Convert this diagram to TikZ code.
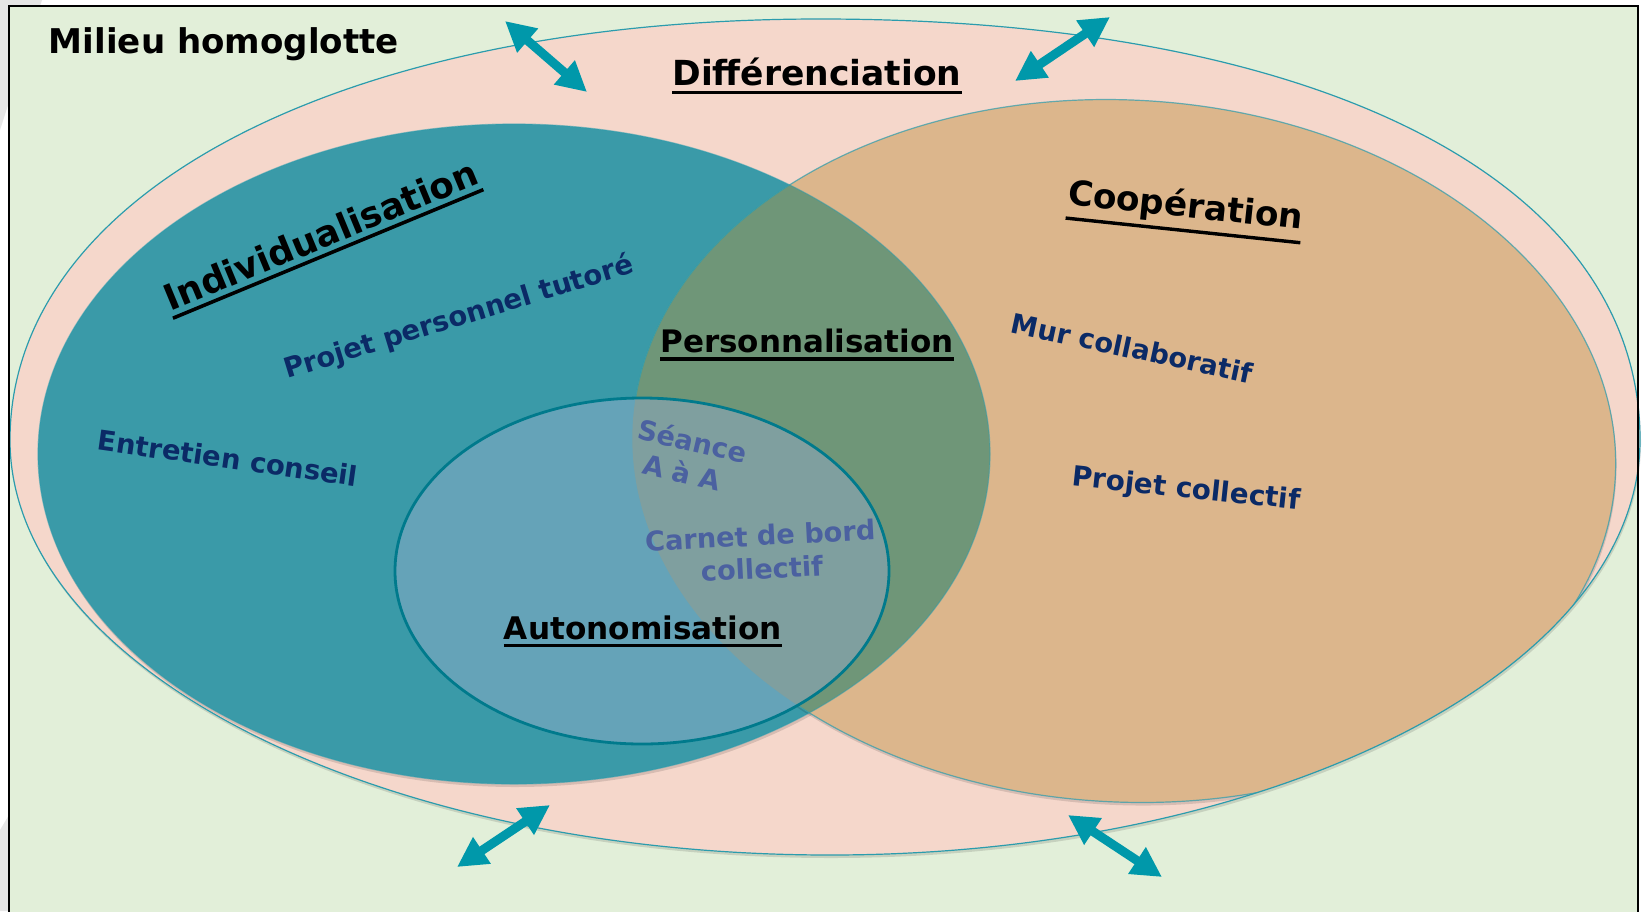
\documentclass[tikz,border=0pt]{standalone}
\usepackage{fontspec}
\usepackage{graphicx}
\setmainfont{DejaVu Sans}
\usetikzlibrary{arrows.meta}
\newlength\pxu \setlength\pxu{0.5pt}
\newcommand\fitw[2]{\resizebox{#1\pxu}{!}{#2}}
\newcommand\ulx[1]{\vtop{\hbox{#1}\kern1.3pt\hrule height 1.0pt}}
\newcommand\outerP{(10,440) .. controls (10,192) and (342,19) .. (820,19) .. controls (1323,19) and (1640,182) .. (1640,440) .. controls (1640,669) and (1277,855) .. (830,855) .. controls (377,855) and (10,669) .. cycle}
\newcommand\tanP{(1124,451) ellipse [x radius=492, y radius=351]}
\newcommand\blueP{(514,454) ellipse [x radius=476, y radius=330]}
\newcommand\innerP{(642,571) ellipse [x radius=247, y radius=173]}
\definecolor{bgGreen}{HTML}{E2EFD9}
\definecolor{pinkF}{HTML}{F5D7CB}
\definecolor{tealF}{HTML}{3A9AA8}
\definecolor{tanF}{HTML}{DCB68C}
\definecolor{ovlp}{HTML}{6F9678}
\definecolor{innerA}{HTML}{65A3B8}
\definecolor{innerB}{HTML}{7F9F9F}
\definecolor{innerEdge}{HTML}{007A8C}
\definecolor{edgeT}{HTML}{2B9CAD}
\definecolor{arrowT}{HTML}{0098AA}
\definecolor{navy}{HTML}{0B2A66}
\definecolor{lblue}{HTML}{4B61A0}
\definecolor{grayP}{HTML}{E6E6E6}
\begin{document}
\begin{tikzpicture}[x=0.5pt,y=-0.5pt,
  every node/.style={inner sep=0pt},
  hd/.style={font=\bfseries, text=black},
  nv/.style={font=\bfseries, text=navy},
  lb/.style={font=\bfseries\fontsize{13.6}{16.5}\selectfont, text=lblue},
  dbl/.style={draw=arrowT, line width=4.5pt, {Triangle[length=15pt,width=15pt]}-{Triangle[length=15pt,width=15pt]}},
  thinedge/.style={draw=edgeT, line width=0.6pt},
  shadowF/.style={fill=black, fill opacity=0.12},
  tanrot/.style={rotate around={-3:(1124,451)}}]
\useasboundingbox (0,0) rectangle (1643,911);
\fill[white] (0,0) rectangle (1643,911);
\fill[grayP] (0,0) -- (42,0) -- (0,130) -- cycle;
\fill[grayP] (0,830) -- (9,815) -- (9,911) -- (0,911) -- cycle;
\fill[bgGreen] (9,6) rectangle (1638,915);
% Differenciation
\fill[shadowF, shift={(1,3)}] \outerP;
\fill[pinkF] \outerP;
% Individualisation
\fill[shadowF, shift={(1,3)}] \blueP;
\fill[tealF] \blueP;
% Cooperation (kept inside the outer shape)
\begin{scope}
  \clip \outerP;
  \fill[shadowF, tanrot, shift={(1,3)}] \tanP;
  \fill[tanF, tanrot] \tanP;
  \begin{scope}
    \clip \blueP;
    \fill[ovlp, tanrot] \tanP;
  \end{scope}
  \draw[thinedge, draw opacity=0.7, tanrot] \tanP;
\end{scope}
\draw[thinedge, draw opacity=0.5] \blueP;
\draw[thinedge] \outerP;
% Autonomisation
\fill[innerA] \innerP;
\begin{scope}
  \clip \innerP;
  \fill[innerB, tanrot] \tanP;
\end{scope}
\draw[innerEdge, line width=1.4pt] \innerP;
% frame
\draw[black, line width=1.2pt] (9,920) -- (9,6) -- (1638,6) -- (1638,920);
% arrows
\coordinate (a1s) at (505,21);  \coordinate (a1e) at (587,92);
\coordinate (a2s) at (1015,81); \coordinate (a2e) at (1110,17);
\coordinate (a3s) at (457,867); \coordinate (a3e) at (550,805);
\coordinate (a4s) at (1068,815); \coordinate (a4e) at (1162,877);
\draw[dbl] (a1s) -- (a1e);
\draw[dbl] (a2s) -- (a2e);
\draw[dbl] (a3s) -- (a3e);
\draw[dbl] (a4s) -- (a4e);
% texts
\node[hd] (milieu) at (224,44) {\fitw{350}{Milieu homoglotte}};
\node[hd] (diff) at (817,76) {\fitw{289}{\ulx{Différenciation}}};
\node[hd, rotate=22.5] (indiv) at (322,239) {\fitw{336}{\ulx{Individualisation}}};
\node[hd] (perso) at (807,345) {\fitw{293}{\ulx{Personnalisation}}};
\node[hd, rotate=-6] (coop) at (1185,211) {\fitw{236}{\ulx{Coopération}}};
\node[hd] (auto) at (643,631) {\fitw{278}{\ulx{Autonomisation}}};
\node[nv, rotate=17] (ppt) at (459,318) {\fitw{364}{Projet personnel tutoré}};
\node[nv, rotate=-8] (ent) at (228,458) {\fitw{262}{Entretien conseil}};
\node[nv, rotate=-12] (mur) at (1132,348) {\fitw{246}{Mur collaboratif}};
\node[nv, rotate=-6] (pc) at (1186,490) {\fitw{229}{Projet collectif}};
\node[lb, rotate=-13, align=left] (seance) at (689,457) {Séance\\\hspace*{0.45em}A à A};
\node[lb, rotate=3, align=center] (carnet) at (761,552) {Carnet de bord\\collectif};
\end{tikzpicture}
\end{document}
